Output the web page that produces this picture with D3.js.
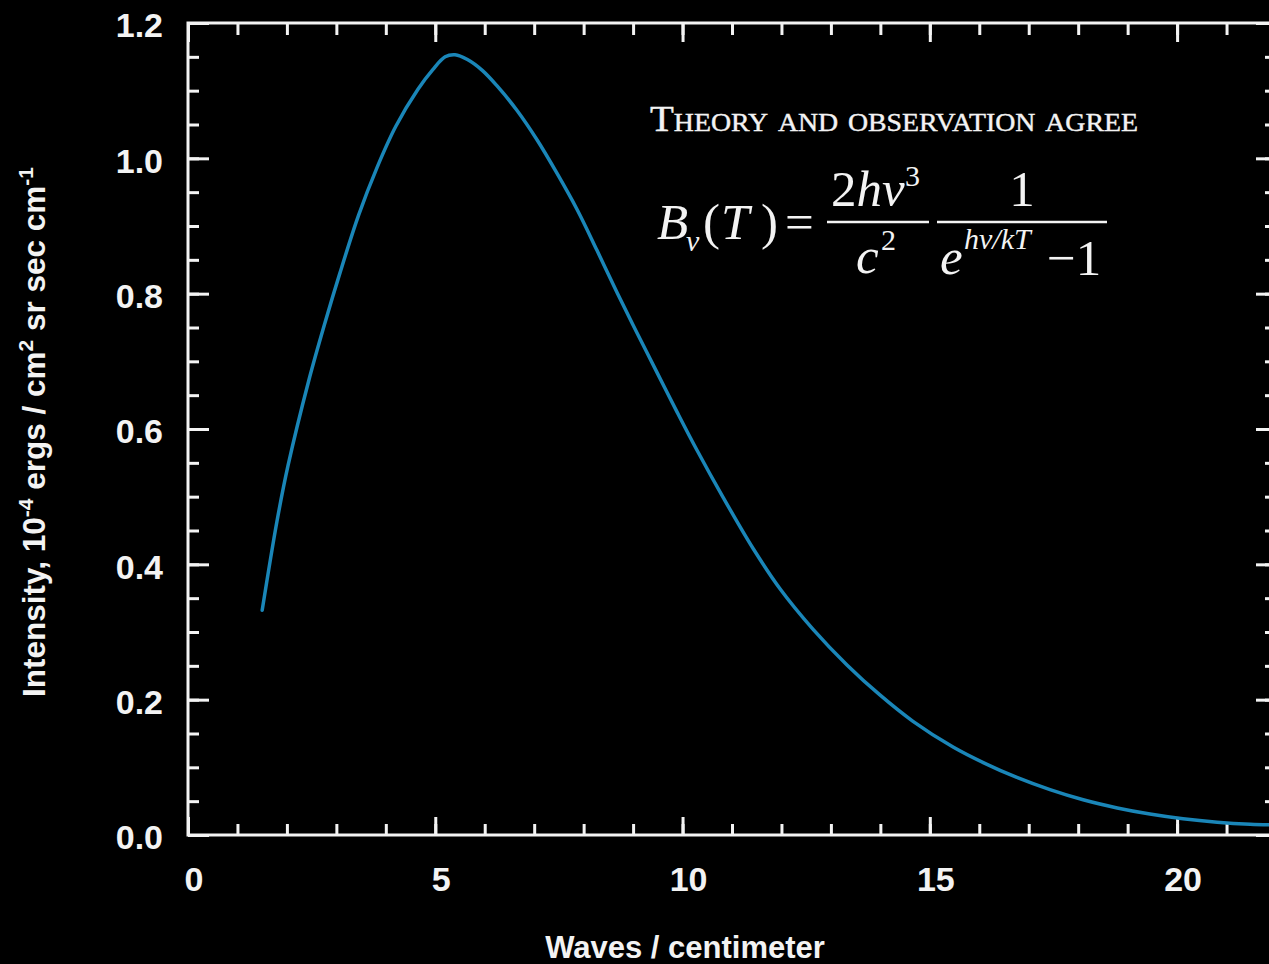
<!DOCTYPE html>
<html>
<head>
<meta charset="utf-8">
<script src="https://cdn.jsdelivr.net/npm/d3@7"></script>
<style>
  html, body { margin: 0; padding: 0; background: #000; overflow: hidden; }
  svg { display: block; }
</style>
</head>
<body>
<svg id="chart" width="1269" height="964"></svg>
<script>
// ---- data ----
const waves = [1.50, 1.80, 2.02, 2.44, 2.77, 3.07, 3.45, 3.82, 4.20, 4.65, 4.95, 5.20, 5.40, 5.65, 5.95, 6.25, 6.65, 7.06, 7.46, 7.87, 8.27, 8.68, 9.08, 9.48, 9.89, 10.29, 10.82, 11.43, 11.97, 12.64, 13.33, 13.99, 14.66, 15.47, 16.08, 16.76, 17.43, 18.10, 18.79, 19.45, 20.12, 20.81, 21.48, 22.0];
const intensity = [0.332, 0.464, 0.545, 0.671, 0.757, 0.830, 0.916, 0.986, 1.047, 1.102, 1.131, 1.150, 1.153, 1.146, 1.130, 1.107, 1.071, 1.027, 0.978, 0.924, 0.864, 0.801, 0.742, 0.684, 0.625, 0.569, 0.499, 0.423, 0.364, 0.304, 0.251, 0.207, 0.168, 0.130, 0.107, 0.085, 0.067, 0.052, 0.040, 0.031, 0.024, 0.019, 0.016, 0.015];
const xMajorTicks = [0, 5, 10, 15, 20];
const xMinorTicks = [0,1,2,3,4,5,6,7,8,9,10,11,12,13,14,15,16,17,18,19,20,21,22];
const yMajorTicks = [0, 0.2, 0.4, 0.6, 0.8, 1.0, 1.2];
const yMinorTicks = [0,0.05,0.1,0.15,0.2,0.25,0.3,0.35,0.4,0.45,0.5,0.55,0.6,0.65,0.7,0.75,0.8,0.85,0.9,0.95,1.0,1.05,1.1,1.15,1.2];
const xTickLabels = ["0", "5", "10", "15", "20"];
const yTickLabels = ["0.0", "0.2", "0.4", "0.6", "0.8", "1.0", "1.2"];
const xTitle = "Waves / centimeter";
const headline = "Theory and observation agree";

// ---- layout ----
const svg = d3.select("#chart");
const W = 1269, H = 964;
const x = d3.scaleLinear().domain([0, 22]).range([188, 1276]);
const y = d3.scaleLinear().domain([0, 1.2]).range([835, 23]);
const white = "#f3f3f3";
const sans = "'Liberation Sans', Arial, sans-serif";
const serif = "'Liberation Serif', 'Times New Roman', serif";

svg.append("rect").attr("width", W).attr("height", H).attr("fill", "#000");

function styleAxis(g) {
  g.select(".domain").remove();
  g.selectAll(".tick line").attr("stroke", white).attr("stroke-width", 3);
  g.selectAll(".tick text").remove();
}

// minor + major ticks on all four sides (pointing inward)
svg.append("g").attr("transform", `translate(0,${y(0)})`)
  .call(d3.axisBottom(x).tickValues(xMinorTicks).tickSize(-11).tickFormat("")).call(styleAxis);
svg.append("g").attr("transform", `translate(0,${y(0)})`)
  .call(d3.axisBottom(x).tickValues(xMajorTicks).tickSize(-18).tickFormat("")).call(styleAxis);
svg.append("g").attr("transform", `translate(0,${y(1.2)})`)
  .call(d3.axisTop(x).tickValues(xMinorTicks).tickSize(-12).tickFormat("")).call(styleAxis);
svg.append("g").attr("transform", `translate(0,${y(1.2)})`)
  .call(d3.axisTop(x).tickValues(xMajorTicks).tickSize(-19).tickFormat("")).call(styleAxis);
svg.append("g").attr("transform", `translate(${x(0)},0)`)
  .call(d3.axisLeft(y).tickValues(yMinorTicks).tickSize(-11).tickFormat("")).call(styleAxis);
svg.append("g").attr("transform", `translate(${x(0)},0)`)
  .call(d3.axisLeft(y).tickValues(yMajorTicks).tickSize(-21).tickFormat("")).call(styleAxis);
svg.append("g").attr("transform", `translate(${x(22)},0)`)
  .call(d3.axisRight(y).tickValues(yMinorTicks).tickSize(-11).tickFormat("")).call(styleAxis);
svg.append("g").attr("transform", `translate(${x(22)},0)`)
  .call(d3.axisRight(y).tickValues(yMajorTicks).tickSize(-20).tickFormat("")).call(styleAxis);

// frame
svg.append("rect")
  .attr("x", x(0)).attr("y", y(1.2))
  .attr("width", x(22) - x(0)).attr("height", y(0) - y(1.2))
  .attr("fill", "none").attr("stroke", white).attr("stroke-width", 3);

// tick labels
svg.append("g").selectAll("text").data(xMajorTicks).join("text")
  .attr("x", d => x(d) + 6).attr("y", 891)
  .attr("text-anchor", "middle")
  .attr("font-family", sans).attr("font-weight", "bold").attr("font-size", 34)
  .attr("fill", white)
  .text((d, i) => xTickLabels[i]);

svg.append("g").selectAll("text").data(yMajorTicks).join("text")
  .attr("x", 163).attr("y", d => y(d) + 2)
  .attr("dy", "0.36em")
  .attr("text-anchor", "end")
  .attr("font-family", sans).attr("font-weight", "bold").attr("font-size", 34)
  .attr("fill", white)
  .text((d, i) => yTickLabels[i]);

// axis titles
svg.append("text")
  .attr("x", 685).attr("y", 958)
  .attr("text-anchor", "middle")
  .attr("font-family", sans).attr("font-weight", "bold").attr("font-size", 31)
  .attr("fill", white)
  .text(xTitle);

const yt = svg.append("text")
  .attr("transform", "translate(45,432) rotate(-90)")
  .attr("text-anchor", "middle")
  .attr("font-family", sans).attr("font-weight", "bold").attr("font-size", 31.5)
  .attr("fill", white);
yt.append("tspan").text("Intensity, 10");
yt.append("tspan").attr("font-size", 21).attr("dy", -12).text("-4");
yt.append("tspan").attr("dy", 12).text(" ergs / cm");
yt.append("tspan").attr("font-size", 21).attr("dy", -12).text("2");
yt.append("tspan").attr("dy", 12).text(" sr sec cm");
yt.append("tspan").attr("font-size", 21).attr("dy", -12).text("-1");

// curve
const pts = waves.map((w, i) => [w, intensity[i]]);
svg.append("path")
  .datum(pts)
  .attr("fill", "none")
  .attr("stroke", "#1a86b8")
  .attr("stroke-width", 3.5)
  .attr("stroke-linecap", "round")
  .attr("d", d3.line().x(d => x(d[0])).y(d => y(d[1])).curve(d3.curveCatmullRom.alpha(0.5)));

// headline
svg.append("text")
  .attr("x", 650).attr("y", 131)
  .attr("font-family", serif).attr("font-size", 35)
  .attr("font-variant", "small-caps")
  .attr("stroke", white).attr("stroke-width", 0.4)
  .attr("textLength", 488).attr("lengthAdjust", "spacingAndGlyphs")
  .attr("fill", white)
  .text(headline);

// Planck formula
const fs = 51;
const fg = svg.append("g").attr("font-family", serif).attr("fill", white).attr("font-size", fs);
fg.append("text").attr("x", 657).attr("y", 239).attr("font-style", "italic").text("B");
fg.append("text").attr("x", 686).attr("y", 251).attr("font-style", "italic").attr("font-size", 30).text("ν");
fg.append("text").attr("x", 703).attr("y", 239).text("(");
fg.append("text").attr("x", 721).attr("y", 239).attr("font-style", "italic").text("T");
fg.append("text").attr("x", 761).attr("y", 239).text(")");
fg.append("text").attr("x", 785).attr("y", 239).text("=");
// first fraction
fg.append("line").attr("x1", 827).attr("x2", 929).attr("y1", 222).attr("y2", 222).attr("stroke", white).attr("stroke-width", 2.5);
const num1 = fg.append("text").attr("x", 831).attr("y", 206);
num1.append("tspan").text("2");
num1.append("tspan").attr("font-style", "italic").text("hν");
fg.append("text").attr("x", 905).attr("y", 186).attr("font-size", 30).text("3");
fg.append("text").attr("x", 856).attr("y", 273).attr("font-style", "italic").text("c");
fg.append("text").attr("x", 881).attr("y", 250).attr("font-size", 30).text("2");
// second fraction
fg.append("line").attr("x1", 937).attr("x2", 1107).attr("y1", 222).attr("y2", 222).attr("stroke", white).attr("stroke-width", 2.5);
fg.append("text").attr("x", 1022).attr("y", 206).attr("text-anchor", "middle").text("1");
fg.append("text").attr("x", 940).attr("y", 274).attr("font-style", "italic").text("e");
fg.append("text").attr("x", 964).attr("y", 249).attr("font-style", "italic").attr("font-size", 30).text("hν/kT");
fg.append("text").attr("x", 1047).attr("y", 275).text("−1");
</script>
</body>
</html>
